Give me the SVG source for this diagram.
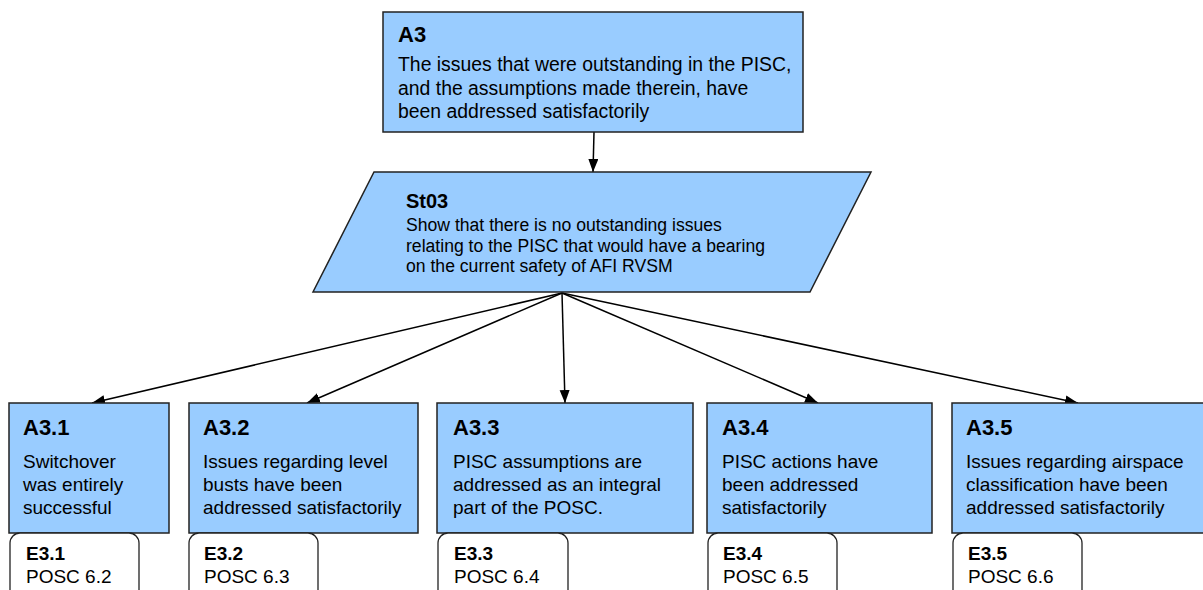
<svg xmlns="http://www.w3.org/2000/svg" width="1203" height="590" viewBox="0 0 1203 590">
<style>
.box{fill:#99ccff;stroke:#222;stroke-width:1.5}
.ev{fill:#fff;stroke:#222;stroke-width:1.3}
.t{font-family:"Liberation Sans",Arial,sans-serif;fill:#000}
.h{font-weight:bold;font-size:22px}
.b{font-size:19px}
.b2{font-size:19.4px}
.sh{font-weight:bold;font-size:20px}
.sb{font-size:17.6px}
.eh{font-weight:bold;font-size:19px}
.eb{font-size:19px}
.c{stroke:#000;stroke-width:1.5;fill:none;marker-end:url(#ah)}
</style>
<defs>
<marker id="ah" markerUnits="userSpaceOnUse" markerWidth="14" markerHeight="12" refX="13" refY="5" orient="auto">
<path d="M0,0 L13,5 L0,10 Z" fill="#000"/>
</marker>
</defs>
<rect width="1203" height="590" fill="#fff"/>
<g id="connectors">
<line class="c" x1="594" y1="132" x2="593" y2="172"/>
<line class="c" x1="562" y1="293" x2="92" y2="403"/>
<line class="c" x1="562" y1="293" x2="307" y2="403"/>
<line class="c" x1="562" y1="293" x2="565" y2="403"/>
<line class="c" x1="562" y1="293" x2="818" y2="403"/>
<line class="c" x1="562" y1="293" x2="1078" y2="403"/>
</g>
<g id="A3">
<rect class="box" x="383" y="12" width="420" height="120"/>
<text class="t h" x="398" y="42">A3</text>
<text class="t b2" x="398" y="71">The issues that were outstanding in the PISC,</text>
<text class="t b2" x="398" y="95">and the assumptions made therein, have</text>
<text class="t b2" x="398" y="118">been addressed satisfactorily</text>
</g>
<g id="St03">
<polygon class="box" points="374,172 871,172 810,292 313,292"/>
<text class="t sh" x="406" y="208">St03</text>
<text class="t sb" x="406" y="231">Show that there is no outstanding issues</text>
<text class="t sb" x="406" y="252">relating to the PISC that would have a bearing</text>
<text class="t sb" x="406" y="272">on the current safety of AFI RVSM</text>
</g>
<g id="A3.1">
<rect class="box" x="9" y="403" width="160" height="130"/>
<text class="t h" x="23" y="435">A3.1</text>
<text class="t b" x="23" y="468">Switchover</text>
<text class="t b" x="23" y="491">was entirely</text>
<text class="t b" x="23" y="514">successful</text>
</g>
<g id="A3.2">
<rect class="box" x="189" y="403" width="229" height="130"/>
<text class="t h" x="203" y="435">A3.2</text>
<text class="t b" x="203" y="468">Issues regarding level</text>
<text class="t b" x="203" y="491">busts have been</text>
<text class="t b" x="203" y="514">addressed satisfactorily</text>
</g>
<g id="A3.3">
<rect class="box" x="437" y="403" width="256" height="130"/>
<text class="t h" x="453" y="435">A3.3</text>
<text class="t b" x="453" y="468">PISC assumptions are</text>
<text class="t b" x="453" y="491">addressed as an integral</text>
<text class="t b" x="453" y="514">part of the POSC.</text>
</g>
<g id="A3.4">
<rect class="box" x="707" y="403" width="225" height="130"/>
<text class="t h" x="722" y="435">A3.4</text>
<text class="t b" x="722" y="468">PISC actions have</text>
<text class="t b" x="722" y="491">been addressed</text>
<text class="t b" x="722" y="514">satisfactorily</text>
</g>
<g id="A3.5">
<rect class="box" x="952" y="403" width="260" height="130"/>
<text class="t h" x="966" y="435">A3.5</text>
<text class="t b" x="966" y="468">Issues regarding airspace</text>
<text class="t b" x="966" y="491">classification have been</text>
<text class="t b" x="966" y="514">addressed satisfactorily</text>
</g>
<g id="E3.1">
<rect class="ev" x="10" y="533" width="129" height="70" rx="10"/>
<text class="t eh" x="26" y="560">E3.1</text>
<text class="t eb" x="26" y="583">POSC 6.2</text>
</g>
<g id="E3.2">
<rect class="ev" x="189" y="533" width="129" height="70" rx="10"/>
<text class="t eh" x="204" y="560">E3.2</text>
<text class="t eb" x="204" y="583">POSC 6.3</text>
</g>
<g id="E3.3">
<rect class="ev" x="438" y="533" width="130" height="70" rx="10"/>
<text class="t eh" x="454" y="560">E3.3</text>
<text class="t eb" x="454" y="583">POSC 6.4</text>
</g>
<g id="E3.4">
<rect class="ev" x="708" y="533" width="129" height="70" rx="10"/>
<text class="t eh" x="723" y="560">E3.4</text>
<text class="t eb" x="723" y="583">POSC 6.5</text>
</g>
<g id="E3.5">
<rect class="ev" x="953" y="533" width="129" height="70" rx="10"/>
<text class="t eh" x="968" y="560">E3.5</text>
<text class="t eb" x="968" y="583">POSC 6.6</text>
</g>
</svg>
